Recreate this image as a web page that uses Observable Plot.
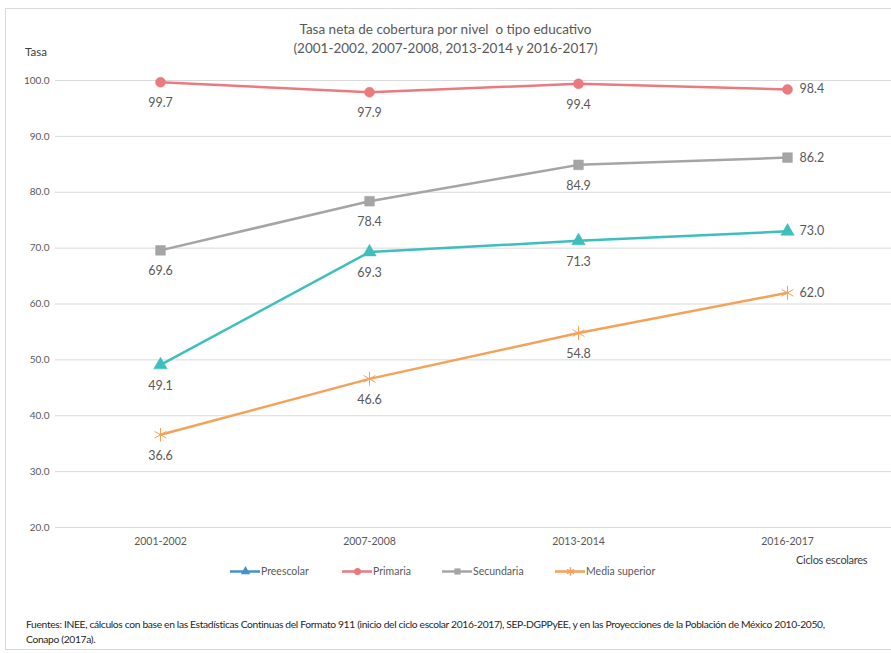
<!DOCTYPE html>
<html>
<head>
<meta charset="utf-8">
<script src="https://cdn.jsdelivr.net/npm/d3@7"></script>
<script src="https://cdn.jsdelivr.net/npm/@observablehq/plot@0.6"></script>
<style>
  body { margin: 0; background: #fff; font-family: Lato, "Open Sans", sans-serif; }
  #wrap { position: relative; width: 891px; height: 653px; overflow: hidden; }
  #frame { position: absolute; left: 5px; top: 8px; width: 900px; height: 642px; border: 1px solid #d9d9d9; box-sizing: border-box; }
  #title { position: absolute; left: 0; width: 891px; top: 20px; text-align: center; font-size: 13.5px; color: #595959; line-height: 19px; }
  #ylab { position: absolute; left: 25px; top: 45px; font-size: 11.5px; color: #404040; }
  #chart { position: absolute; left: 0; top: 0; }
  #xlab { position: absolute; left: 796px; top: 553px; font-size: 11px; color: #404040; letter-spacing: -0.3px; }
  #legend { position: absolute; top: 564px; left: 0; width: 891px; height: 20px; font-size: 10.5px; color: #595959; }
  .item { position: absolute; top: 0; display: flex; align-items: center; white-space: nowrap; }
  .item svg { margin-right: 1px; max-width: none !important; width: 30px; height: 14px; flex: none; }
  #source { position: absolute; left: 26px; top: 617px; font-size: 10.3px; color: #262626; line-height: 15px; letter-spacing: -0.35px; width: 830px; }
</style>
</head>
<body>
<div id="wrap">
  <div id="frame"></div>
  <div id="title">Tasa neta de cobertura por nivel&nbsp; o tipo educativo<br>(2001-2002, 2007-2008, 2013-2014 y 2016-2017)</div>
  <div id="ylab">Tasa</div>
  <div id="chart"></div>
  <div id="xlab">Ciclos escolares</div>
  <div id="legend"></div>
  <div id="source">Fuentes: INEE, cálculos con base en las Estadísticas Continuas del Formato 911 (inicio del ciclo escolar 2016-2017), SEP-DGPPyEE, y en las Proyecciones de la Población de México 2010-2050, Conapo (2017a).</div>
</div>
<script>
const ciclos = ["2001-2002", "2007-2008", "2013-2014", "2016-2017"];
const preescolar = [49.1, 69.3, 71.3, 73.0];
const primaria = [99.7, 97.9, 99.4, 98.4];
const secundaria = [69.6, 78.4, 84.9, 86.2];
const mediaSuperior = [36.6, 46.6, 54.8, 62.0];
const yTicks = [20, 30, 40, 50, 60, 70, 80, 90, 100];

const seriesDefs = [
  {name: "Preescolar", values: preescolar, color: "#3cbfbd", legendColor: "#4a90c8", symbol: "triangle"},
  {name: "Primaria", values: primaria, color: "#ea7a7e", legendColor: "#ea7a7e", symbol: "circle"},
  {name: "Secundaria", values: secundaria, color: "#a5a5a5", legendColor: "#a5a5a5", symbol: "square"},
  {name: "Media superior", values: mediaSuperior, color: "#f4a259", legendColor: "#f4a259", symbol: "asterisk"}
];

const rows = seriesDefs.flatMap(s => s.values.map((v, i) => ({serie: s.name, ciclo: ciclos[i], v, last: i === ciclos.length - 1})));

const marks = [
  Plot.ruleY(yTicks, {stroke: "#d9d9d9", strokeWidth: 1}),
  Plot.axisY({ticks: yTicks, tickFormat: d3.format(".1f"), tickSize: 0, tickPadding: 6, fontSize: 10, fill: "#595959", label: null}),
  Plot.axisX({tickSize: 0, tickPadding: 10, fontSize: 10.5, fill: "#595959", label: null})
];
for (const s of seriesDefs) {
  const d = rows.filter(r => r.serie === s.name);
  marks.push(Plot.line(d, {x: "ciclo", y: "v", stroke: s.color, strokeWidth: 2.5}));
  if (s.symbol === "asterisk") {
    marks.push(Plot.dot(d, {x: "ciclo", y: "v", symbol: "asterisk", r: 6.5, stroke: s.color, strokeWidth: 1}));
  } else {
    marks.push(Plot.dot(d, {x: "ciclo", y: "v", symbol: s.symbol, r: s.symbol === "square" ? 5.5 : 5, fill: s.color, stroke: s.color, strokeWidth: 0.5}));
  }
}
marks.push(Plot.text(rows.filter(r => !r.last), {x: "ciclo", y: "v", text: d => d3.format(".1f")(d.v), dy: 21, fontSize: 12.5, fill: "#595959"}));
marks.push(Plot.text(rows.filter(r => r.last), {x: "ciclo", y: "v", text: d => d3.format(".1f")(d.v), dx: 12, textAnchor: "start", fontSize: 12.5, fill: "#595959"}));

const chart = Plot.plot({
  width: 891,
  height: 560,
  marginTop: 80,
  marginBottom: 33,
  marginLeft: 55,
  marginRight: 0,
  style: {fontFamily: "Lato, 'Open Sans', sans-serif", background: "transparent"},
  x: {type: "point", domain: ciclos, padding: 0.5},
  y: {domain: [20, 100]},
  marks
});
document.getElementById("chart").appendChild(chart);

// legend
const legendPos = [230, 342, 442, 555];
const legend = document.getElementById("legend");
seriesDefs.forEach((s, i) => {
  const item = document.createElement("div");
  item.className = "item";
  item.style.left = legendPos[i] + "px";
  const sw = Plot.plot({
    width: 30, height: 14, margin: 0,
    x: {domain: [0, 1], axis: null}, y: {domain: [0, 1], axis: null},
    style: {background: "transparent"},
    marks: [
      Plot.ruleY([0.5], {stroke: s.legendColor, strokeWidth: 2.5}),
      s.symbol === "asterisk"
        ? Plot.dot([0.5], {x: d => d, y: 0.5, symbol: "asterisk", r: 4, stroke: s.legendColor})
        : Plot.dot([0.5], {x: d => d, y: 0.5, symbol: s.symbol, r: 3.5, fill: s.legendColor, stroke: "none"})
    ]
  });
  item.appendChild(sw);
  const t = document.createElement("span");
  t.textContent = s.name;
  item.appendChild(t);
  legend.appendChild(item);
});
</script>
</body>
</html>
